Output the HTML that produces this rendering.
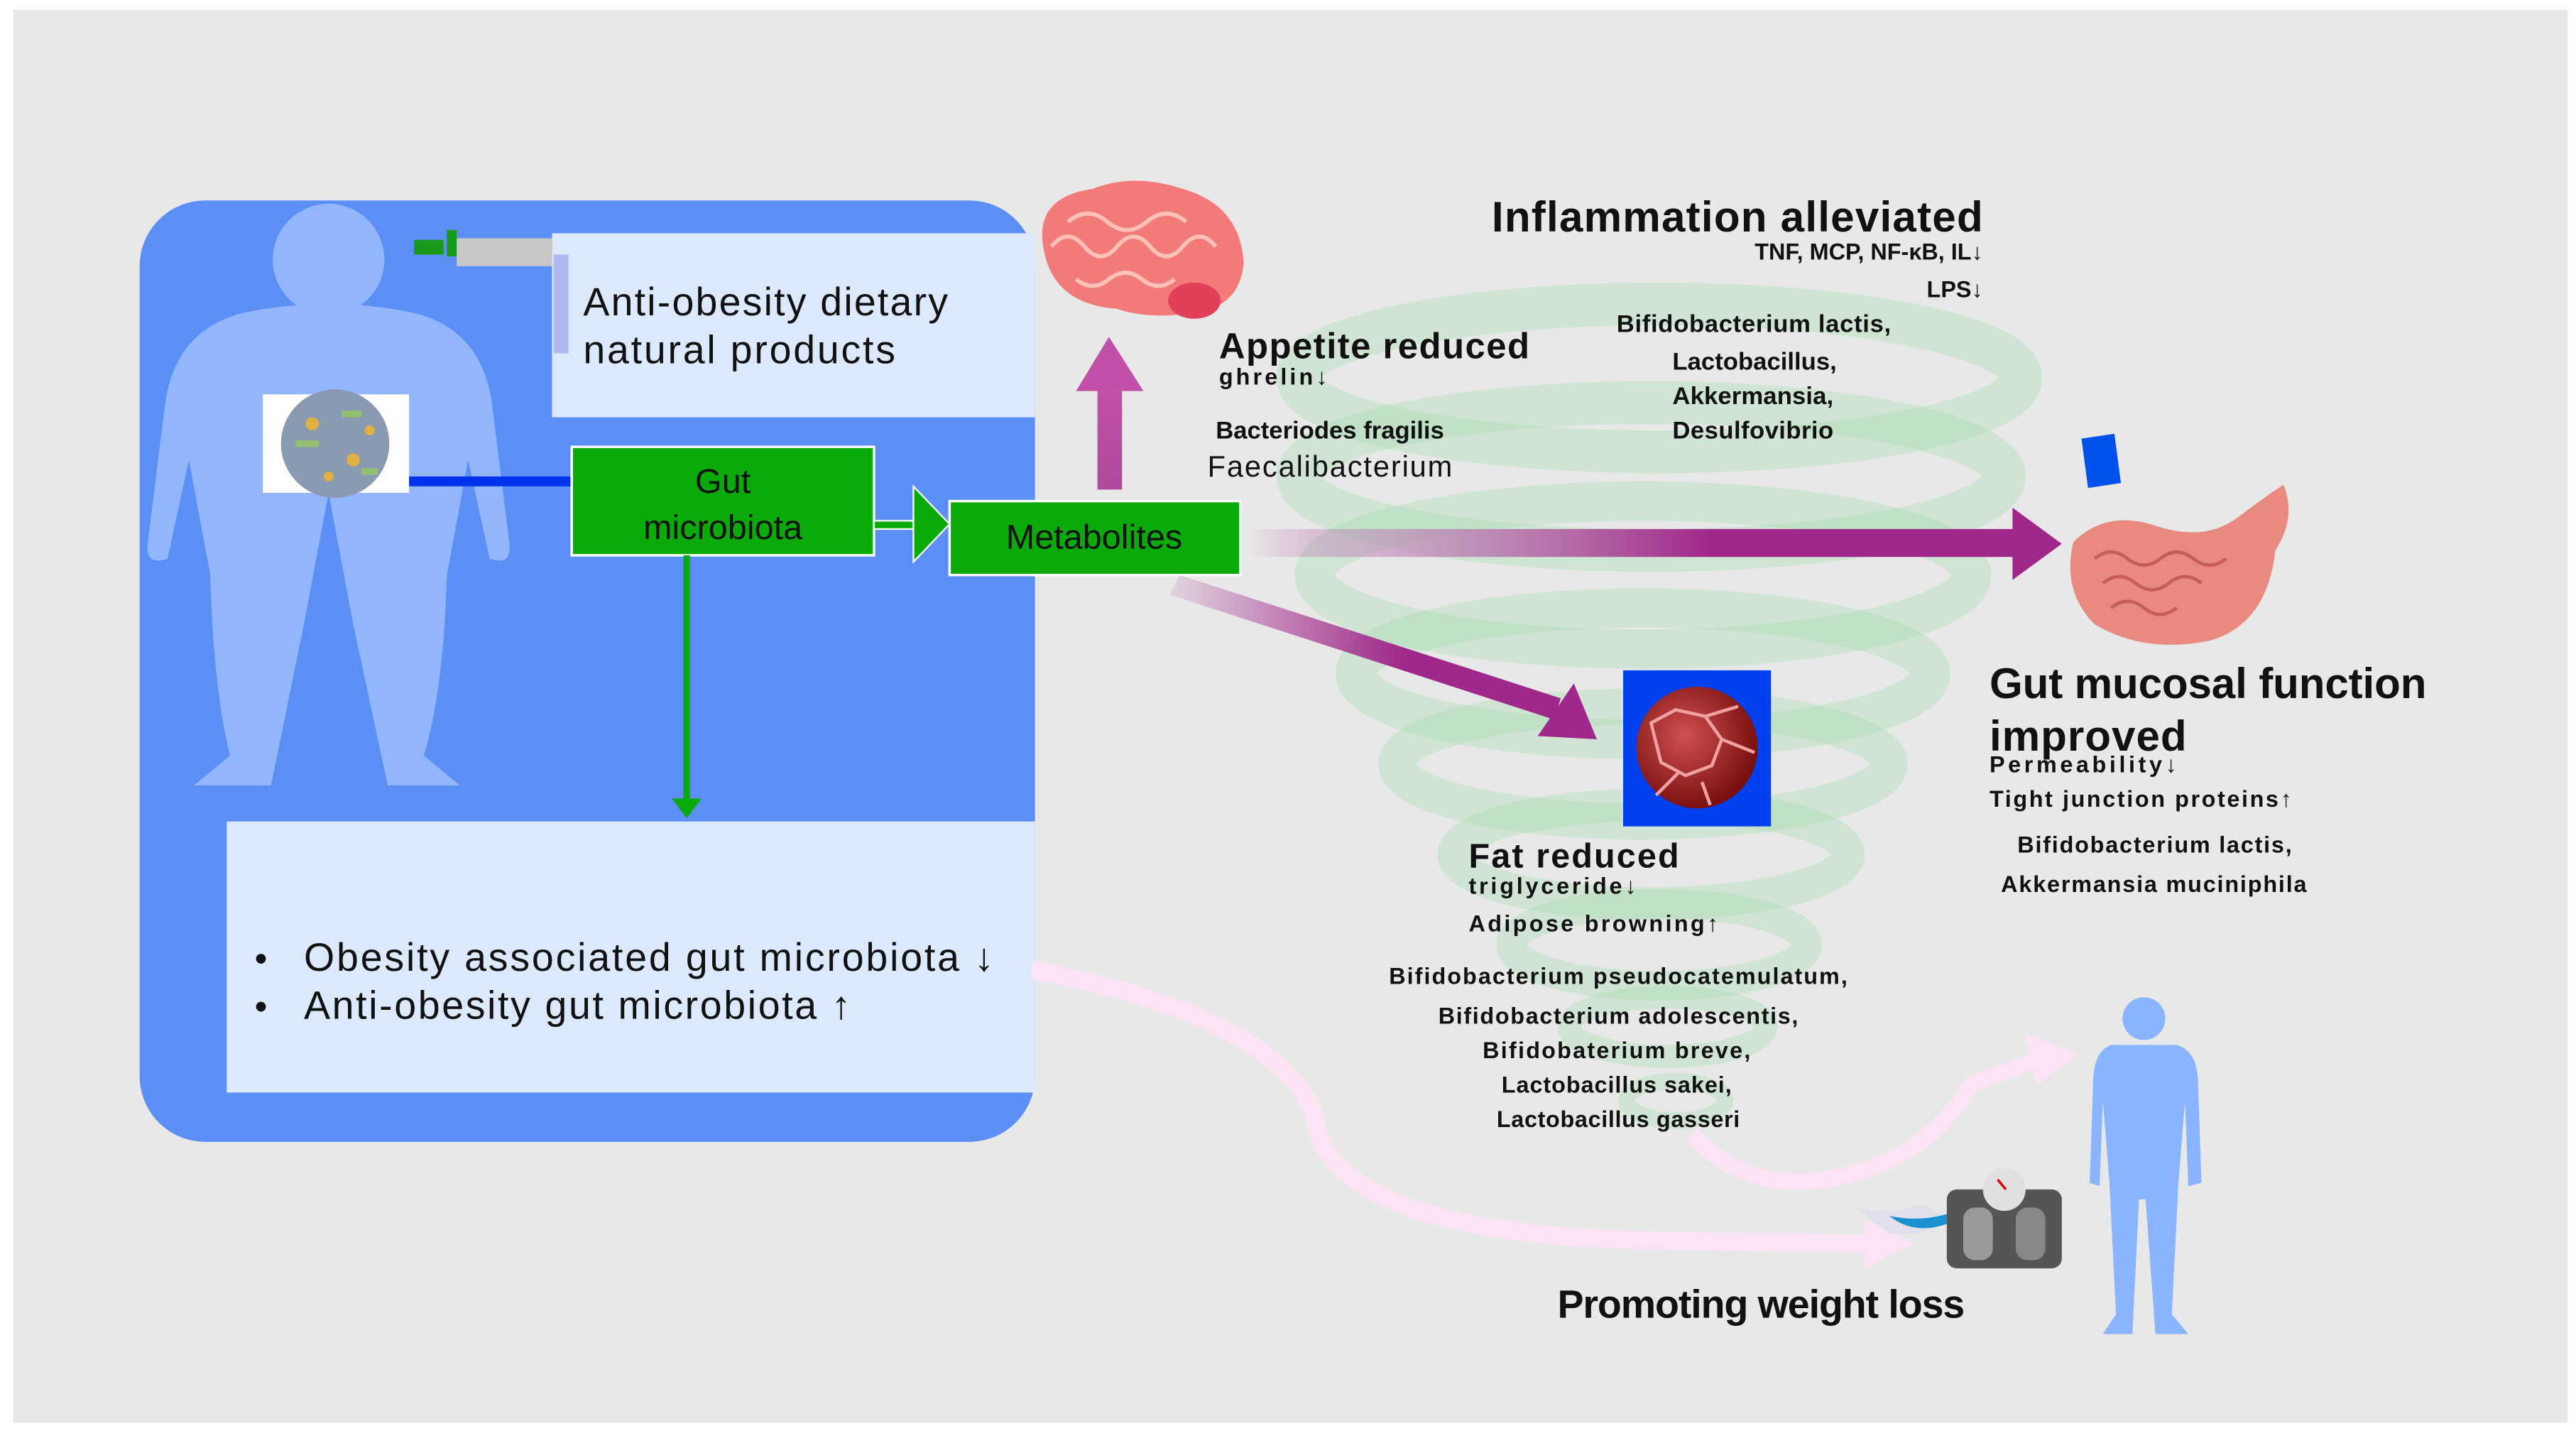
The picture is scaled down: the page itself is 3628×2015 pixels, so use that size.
<!DOCTYPE html>
<html><head><meta charset="utf-8"><style>
html,body{margin:0;padding:0;background:#fff;width:3628px;height:2015px;overflow:hidden}
svg{display:block}
text{font-family:"Liberation Sans",sans-serif;fill:#111}
.b{font-weight:bold}
</style></head><body>
<svg width="3628" height="2015" viewBox="0 0 1568 871" preserveAspectRatio="none">
<defs>
<linearGradient id="hg" x1="0" x2="1" y1="0" y2="0">
<stop offset="0" stop-color="#a0288a" stop-opacity="0"/>
<stop offset="0.15" stop-color="#c080b8" stop-opacity="0.5"/>
<stop offset="0.6" stop-color="#a0288a"/>
<stop offset="1" stop-color="#a0288a"/>
</linearGradient>
<linearGradient id="dg" x1="0" x2="1" y1="0" y2="0">
<stop offset="0" stop-color="#a0288a" stop-opacity="0.1"/>
<stop offset="0.6" stop-color="#a0288a"/>
<stop offset="1" stop-color="#a0288a"/>
</linearGradient>
<linearGradient id="ug" x1="0" x2="0" y1="1" y2="0">
<stop offset="0" stop-color="#b04a9c"/>
<stop offset="1" stop-color="#c050a8"/>
</linearGradient>
<radialGradient id="fat" cx="0.4" cy="0.4" r="0.6">
<stop offset="0" stop-color="#d05050"/><stop offset="1" stop-color="#7a1010"/>
</radialGradient>
</defs>
<rect x="0" y="0" width="1568" height="871" fill="#fff"/>
<rect x="8" y="6" width="1555" height="860" fill="#e8e8e8"/>

<!-- tornado -->
<g fill="none" stroke="#a8dcb4" stroke-opacity="0.38">
<ellipse cx="1010" cy="230" rx="220" ry="45" stroke-width="26"/>
<ellipse cx="1005" cy="290" rx="215" ry="45" stroke-width="26"/>
<ellipse cx="1000" cy="350" rx="200" ry="45" stroke-width="24"/>
<ellipse cx="1000" cy="410" rx="175" ry="40" stroke-width="24"/>
<ellipse cx="1000" cy="465" rx="150" ry="35" stroke-width="22"/>
<ellipse cx="1005" cy="520" rx="120" ry="30" stroke-width="20"/>
<ellipse cx="1010" cy="575" rx="90" ry="25" stroke-width="18"/>
<ellipse cx="1015" cy="625" rx="60" ry="18" stroke-width="14"/>
<ellipse cx="1020" cy="670" rx="30" ry="12" stroke-width="10"/>
</g>

<!-- blue panel -->
<rect x="85" y="122" width="545" height="573" rx="40" fill="#5b8ff5"/>
<g fill="#92b6fb">
<circle cx="200" cy="158" r="34"/>
<path d="M150 190 Q200 180 250 190 Q295 200 300 250 L310 330 Q312 345 298 340 L285 280 L272 350 Q270 420 258 460 L280 478 L236 478 L215 380 L200 300 L185 380 L165 478 L118 478 L140 460 Q130 420 128 350 L115 280 L102 340 Q88 345 90 330 L100 250 Q105 200 150 190 Z"/>
</g>
<rect x="336" y="142" width="294" height="112" fill="#dce8fb"/>
<text x="355" y="192" font-size="24" textLength="222">Anti-obesity dietary</text>
<text x="355" y="221" font-size="24" textLength="190">natural products</text>
<rect x="252" y="146" width="18" height="9" fill="#1a9a1a"/>
<rect x="272" y="140" width="6" height="16" fill="#1a9a1a"/>
<rect x="278" y="145" width="58" height="17" fill="#c8c8c8"/>
<rect x="337" y="155" width="9" height="60" fill="#b0b8f0"/>
<rect x="160" y="240" width="89" height="60" fill="#fff"/>
<circle cx="204" cy="270" r="33" fill="#8a9ab0"/>
<g fill="#e0b040"><circle cx="190" cy="258" r="4"/><circle cx="215" cy="280" r="4"/><circle cx="200" cy="290" r="3"/><circle cx="225" cy="262" r="3"/></g>
<g fill="#90c070"><rect x="180" y="268" width="14" height="4"/><rect x="208" y="250" width="12" height="4"/><rect x="220" y="285" width="10" height="4"/></g>
<rect x="249" y="290" width="99" height="6" fill="#0033ee"/>
<rect x="348" y="272" width="184" height="66" fill="#0aaa0a" stroke="#fff" stroke-width="1.5"/>
<text x="440" y="300" font-size="21" text-anchor="middle">Gut</text>
<text x="440" y="328" font-size="21" text-anchor="middle">microbiota</text>
<rect x="532" y="317" width="24" height="5" fill="#0aaa0a" stroke="#fff" stroke-width="1"/>
<polygon points="556,296 578,319 556,342" fill="#0aaa0a" stroke="#fff" stroke-width="1"/>
<rect x="578" y="305" width="177" height="45" fill="#0aaa0a" stroke="#fff" stroke-width="1.5"/>
<text x="666" y="334" font-size="21" text-anchor="middle">Metabolites</text>
<rect x="416" y="338" width="4" height="150" fill="#0aaa0a"/>
<polygon points="409,486 427,486 418,498" fill="#0aaa0a"/>
<rect x="138" y="500" width="492" height="165" fill="#dce8fb"/>
<text x="155" y="591" font-size="22">•</text>
<text x="185" y="591" font-size="24" textLength="420">Obesity associated gut microbiota ↓</text>
<text x="155" y="620" font-size="22">•</text>
<text x="185" y="620" font-size="24" textLength="333">Anti-obesity gut microbiota ↑</text>

<!-- brain -->
<g>
<path d="M635 150 Q630 120 665 115 Q690 105 720 115 Q755 125 757 160 Q755 185 730 190 Q700 195 680 188 Q640 185 635 150Z" fill="#f27a78"/>
<path d="M640 150 q10 -12 20 0 q10 12 20 0 q10 -12 20 0 q10 12 20 0 q10 -12 20 0 M650 135 q12 -10 24 0 q12 10 24 0 q12 -10 24 0 M655 170 q10 8 20 0 q10 -8 20 0 q10 8 20 0" stroke="#ffc0b8" stroke-width="2.5" fill="none"/>
<ellipse cx="727" cy="183" rx="16" ry="11" fill="#e0405a"/>
</g>
<rect x="668" y="238" width="15" height="60" fill="url(#ug)"/>
<polygon points="655,238 675,205 696,238" fill="#c050a8"/>

<text x="742" y="218" font-size="22" class="b" textLength="189">Appetite reduced</text>
<text x="742" y="234" font-size="14" class="b" textLength="66">ghrelin↓</text>
<text x="740" y="267" font-size="15" class="b" textLength="139">Bacteriodes fragilis</text>
<text x="735" y="290" font-size="18" textLength="149">Faecalibacterium</text>

<text x="908" y="141" font-size="26" class="b" textLength="299">Inflammation alleviated</text>
<text x="1207" y="158" font-size="14" class="b" text-anchor="end">TNF,  MCP, NF-κB, IL↓</text>
<text x="1207" y="181" font-size="14" class="b" text-anchor="end">LPS↓</text>
<text x="984" y="202" font-size="15" class="b" textLength="167">Bifidobacterium lactis,</text>
<text x="1018" y="225" font-size="15" class="b" textLength="100">Lactobacillus,</text>
<text x="1018" y="246" font-size="15" class="b" textLength="98">Akkermansia,</text>
<text x="1018" y="267" font-size="15" class="b" textLength="98">Desulfovibrio</text>

<rect x="760" y="322" width="468" height="17" fill="url(#hg)"/>
<polygon points="1225,309 1255,331 1225,353" fill="#a0288a"/>
<polygon points="718,350 950,425 946,438 712,362" fill="url(#dg)"/>
<polygon points="936,448 958,416 972,450" fill="#a0288a"/>

<rect x="988" y="408" width="90" height="95" fill="#0040ee"/>
<circle cx="1033" cy="455" r="37" fill="url(#fat)"/>
<path d="M1005 440 l15 -8 l18 4 l10 14 l-6 16 l-16 6 l-15 -8 Z M1038 436 l20 -6 M1048 450 l20 8 M1036 476 l5 14 M1022 470 l-14 14" stroke="#f0a0a0" stroke-width="2" fill="none"/>

<polygon points="1267,267 1287,264 1291,294 1271,297" fill="#0050ee"/>
<g>
<path d="M1262 330 q20 -20 50 -10 q30 10 50 -5 q20 -15 28 -20 q8 20 -5 40 q-5 45 -40 55 q-40 8 -70 -10 q-20 -20 -13 -50Z" fill="#e88a80"/>
<path d="M1275 340 q10 -8 20 0 q10 8 20 0 q10 -8 20 0 q10 8 20 0 M1280 355 q10 -8 20 0 q10 8 20 0 q10 -8 20 0 M1285 370 q10 -8 20 0 q10 8 20 0" stroke="#c85c58" stroke-width="2" fill="none"/>
</g>

<text x="1211" y="425" font-size="26" class="b" textLength="266">Gut mucosal function</text>
<text x="1211" y="457" font-size="26" class="b" textLength="120">improved</text>
<text x="1211" y="470" font-size="14" class="b" textLength="114">Permeability↓</text>
<text x="1211" y="491" font-size="14" class="b" textLength="184">Tight junction proteins↑</text>
<text x="1228" y="519" font-size="14" class="b" textLength="167">Bifidobacterium lactis,</text>
<text x="1218" y="543" font-size="14" class="b" textLength="186">Akkermansia muciniphila</text>

<text x="894" y="528" font-size="21" class="b" textLength="128">Fat reduced</text>
<text x="894" y="544" font-size="14" class="b" textLength="102">triglyceride↓</text>
<text x="894" y="567" font-size="14" class="b" textLength="152">Adipose browning↑</text>
<g font-size="14" class="b" text-anchor="middle">
<text x="985" y="599" class="b" textLength="279">Bifidobacterium pseudocatemulatum,</text>
<text x="985" y="623" class="b" textLength="219">Bifidobacterium adolescentis,</text>
<text x="984" y="644" class="b" textLength="163">Bifidobaterium breve,</text>
<text x="984" y="665" class="b" textLength="140">Lactobacillus sakei,</text>
<text x="985" y="686" class="b" textLength="148">Lactobacillus gasseri</text>
</g>

<path d="M628 590 Q780 620 800 680 Q810 750 1000 755 L1140 757" stroke="#fde4f4" stroke-width="11" fill="none"/>
<polygon points="1135,742 1165,757 1135,772" fill="#fde4f4"/>
<path d="M1030 690 Q1060 725 1110 718 Q1170 710 1200 660 L1240 645" stroke="#fde4f4" stroke-width="10" fill="none"/>
<polygon points="1232,628 1265,642 1240,660" fill="#fde4f4"/>

<path d="M1130 735 q20 5 40 -2 l15 8 q-10 12 -35 10 z" fill="#dde" opacity="0.7"/>
<path d="M1150 740 q15 12 35 5 l0 -6 q-18 5 -35 1z" fill="#1a90d0"/>
<rect x="1185" y="724" width="70" height="48" rx="6" fill="#555"/>
<circle cx="1220" cy="724" r="13" fill="#e0e0e0"/>
<line x1="1216" y1="718" x2="1221" y2="724" stroke="#d00" stroke-width="1.5"/>
<rect x="1195" y="735" width="18" height="32" rx="7" fill="#999"/>
<rect x="1227" y="735" width="18" height="32" rx="7" fill="#888"/>
<text x="948" y="802" font-size="24" class="b" textLength="248">Promoting weight loss</text>

<g fill="#8ab4ff">
<circle cx="1305" cy="620" r="13"/>
<path d="M1285 636 L1325 636 Q1338 640 1338 660 L1340 720 L1332 722 L1330 670 L1326 720 L1322 800 L1332 812 L1312 812 L1306 730 L1302 730 L1298 812 L1280 812 L1288 800 L1284 720 L1280 670 L1278 722 L1272 720 L1274 660 Q1274 640 1285 636Z"/>
</g>
</svg>
</body></html>
